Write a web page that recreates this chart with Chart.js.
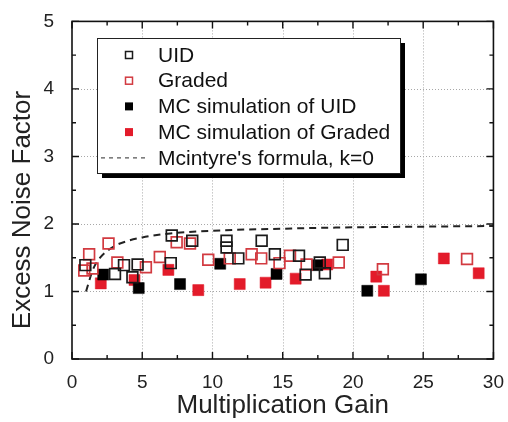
<!DOCTYPE html>
<html>
<head>
<meta charset="utf-8">
<title>Excess Noise Factor vs Multiplication Gain</title>
<script src="https://cdn.jsdelivr.net/npm/chart.js@4.4.1/dist/chart.umd.min.js"></script>
<style>
  html, body { margin: 0; padding: 0; background: #fff; }
  #wrap { width: 508px; height: 422px; }
</style>
</head>
<body>
<div id="wrap"><canvas id="noiseChart" width="508" height="422"></canvas></div>
<script>
// ── Measured / simulated data ───────────────────────────────
const uidGain = [0.95, 3.06, 3.7, 4.3, 4.67, 7.03, 7.1, 8.56, 11.0, 11.0, 11.84, 13.5, 14.44, 16.16, 16.63, 17.64, 18.0, 19.27];
const uidF    = [1.39, 1.26, 1.39, 1.21, 1.40, 1.42, 1.83, 1.75, 1.75, 1.65, 1.49, 1.75, 1.55, 1.53, 1.25, 1.43, 1.27, 1.69];

const gradedGain = [0.87, 1.22, 1.46, 2.6, 3.23, 5.26, 6.25, 7.45, 8.4, 9.7, 11.23, 12.79, 13.47, 14.77, 15.52, 16.7, 18.99, 22.13, 28.12];
const gradedF    = [1.31, 1.55, 1.34, 1.71, 1.43, 1.36, 1.51, 1.73, 1.71, 1.47, 1.49, 1.55, 1.49, 1.42, 1.53, 1.40, 1.43, 1.33, 1.48];

const mcUidGain = [2.22, 4.75, 7.69, 10.55, 14.56, 17.46, 21.02, 24.84];
const mcUidF    = [1.25, 1.05, 1.11, 1.41, 1.26, 1.39, 1.01, 1.18];

const mcGradedGain = [2.05, 4.45, 6.86, 8.99, 11.94, 13.78, 15.92, 18.17, 21.66, 22.2, 26.47, 28.95];
const mcGradedF    = [1.12, 1.17, 1.32, 1.02, 1.11, 1.13, 1.19, 1.40, 1.22, 1.01, 1.49, 1.27];

// McIntyre curve, k = 0
const mcintyreGain = [1, 1.5, 2, 3, 4, 5, 7, 10, 15, 20, 25, 30];
const mcintyreF    = [1.0, 1.33, 1.5, 1.67, 1.75, 1.8, 1.86, 1.9, 1.93, 1.95, 1.96, 1.97];

const xTicks = [0, 5, 10, 15, 20, 25, 30];
const yTicks = [0, 1, 2, 3, 4, 5];

const RED = '#e31b2a';
const RED_EDGE = '#d23a40';
const FONT = "'Liberation Sans', Arial, sans-serif";

function toPoints(xs, ys) {
  return xs.map((x, i) => ({ x: x, y: ys[i] }));
}

// ── Frame, inward ticks and dotted grid ─────────────────────
const framePlugin = {
  id: 'frame',
  beforeDatasetsDraw(chart) {
    const { ctx, chartArea: a, scales: { x, y } } = chart;
    ctx.save();
    ctx.strokeStyle = '#a8a8a8';
    ctx.lineWidth = 1;
    ctx.setLineDash([1, 2]);
    xTicks.slice(1, -1).forEach(v => {
      const px = Math.round(x.getPixelForValue(v)) + 0.5;
      ctx.beginPath(); ctx.moveTo(px, a.top); ctx.lineTo(px, a.bottom); ctx.stroke();
    });
    yTicks.slice(1, -1).forEach(v => {
      const py = Math.round(y.getPixelForValue(v)) + 0.5;
      ctx.beginPath(); ctx.moveTo(a.left, py); ctx.lineTo(a.right, py); ctx.stroke();
    });
    ctx.restore();
  },
  afterDraw(chart) {
    const { ctx, chartArea: a, scales: { x, y } } = chart;
    ctx.save();
    ctx.strokeStyle = '#111';
    ctx.lineWidth = 1.6;
    ctx.setLineDash([]);
    ctx.strokeRect(a.left, a.top, a.right - a.left, a.bottom - a.top);
    ctx.lineWidth = 1.4;
    ctx.beginPath();
    for (let v = 0; v <= 30; v += 2.5) {
      const px = x.getPixelForValue(v);
      const len = v % 5 === 0 ? 7 : 4;
      ctx.moveTo(px, a.bottom); ctx.lineTo(px, a.bottom - len);
      ctx.moveTo(px, a.top); ctx.lineTo(px, a.top + len);
    }
    for (let v = 0; v <= 5; v += 0.5) {
      const py = y.getPixelForValue(v);
      const len = v % 1 === 0 ? 7 : 4;
      ctx.moveTo(a.left, py); ctx.lineTo(a.left + len, py);
      ctx.moveTo(a.right, py); ctx.lineTo(a.right - len, py);
    }
    ctx.stroke();

    // y-axis title, sitting a little below the plot's middle
    ctx.translate(23, 210);
    ctx.rotate(-Math.PI / 2);
    ctx.font = '26px ' + FONT;
    ctx.fillStyle = '#222';
    ctx.textAlign = 'center';
    ctx.textBaseline = 'middle';
    ctx.fillText('Excess Noise Factor', 0, 0);
    ctx.restore();
  }
};

// ── Boxed legend with drop shadow ───────────────────────────
const legendBoxPlugin = {
  id: 'legendBox',
  afterDraw(chart) {
    const ctx = chart.ctx;
    const box = { x: 97, y: 38, w: 303, h: 135 };
    ctx.save();
    ctx.fillStyle = '#000';
    ctx.fillRect(box.x + 5, box.y + 5, box.w, box.h);
    ctx.fillStyle = '#fff';
    ctx.fillRect(box.x, box.y, box.w, box.h);
    ctx.strokeStyle = '#222';
    ctx.lineWidth = 1;
    ctx.strokeRect(box.x + 0.5, box.y + 0.5, box.w, box.h);

    ctx.font = '21px ' + FONT;
    ctx.textBaseline = 'middle';
    ctx.textAlign = 'left';
    chart.data.datasets.forEach((ds, i) => {
      const cy = 55 + i * 25.7;
      const cx = 129;
      if (ds.showLine) {
        ctx.strokeStyle = '#555';
        ctx.lineWidth = 1.3;
        ctx.setLineDash([4, 4]);
        ctx.beginPath(); ctx.moveTo(101, cy); ctx.lineTo(148, cy); ctx.stroke();
        ctx.setLineDash([]);
      } else if (ds.filled) {
        ctx.fillStyle = ds.backgroundColor;
        ctx.fillRect(cx - 4, cy - 4, 8, 8);
      } else {
        ctx.strokeStyle = ds.borderColor;
        ctx.lineWidth = 1.5;
        ctx.strokeRect(cx - 3.5, cy - 3.5, 7, 7);
      }
      ctx.fillStyle = '#111';
      ctx.fillText(ds.label, 158, cy + 1);
    });
    ctx.restore();
  }
};

const squareOpen = (color) => ({
  pointStyle: 'rect', pointRadius: 7.6, pointHoverRadius: 7.6,
  borderColor: color, backgroundColor: 'rgba(255,255,255,0)', borderWidth: 1.7, showLine: false
});
const squareFilled = (color) => ({
  pointStyle: 'rect', pointRadius: 7.8, pointHoverRadius: 7.8,
  borderColor: color, backgroundColor: color, borderWidth: 0.5, showLine: false, filled: true
});

new Chart(document.getElementById('noiseChart'), {
  type: 'scatter',
  data: {
    datasets: [
      { label: 'UID', data: toPoints(uidGain, uidF), ...squareOpen('#1a1a1a') },
      { label: 'Graded', data: toPoints(gradedGain, gradedF), ...squareOpen(RED_EDGE) },
      { label: 'MC simulation of UID', data: toPoints(mcUidGain, mcUidF), ...squareFilled('#000') },
      { label: 'MC simulation of Graded', data: toPoints(mcGradedGain, mcGradedF), ...squareFilled(RED) },
      {
        label: "Mcintyre's formula, k=0", data: toPoints(mcintyreGain, mcintyreF),
        showLine: true, borderColor: '#222', borderWidth: 2, borderDash: [7, 5],
        pointRadius: 0, cubicInterpolationMode: 'monotone', order: 10
      }
    ]
  },
  options: {
    responsive: false,
    animation: false,
    layout: { padding: { left: 0, top: 14, right: 12, bottom: 0 } },
    plugins: { legend: { display: false }, tooltip: { enabled: false } },
    scales: {
      x: {
        type: 'linear', min: 0, max: 30,
        afterFit(scale) { scale.height = 63; },
        grid: { display: false },
        border: { display: false },
        ticks: { stepSize: 5, padding: 4, color: '#222', font: { family: FONT, size: 19 } },
        title: { display: true, text: 'Multiplication Gain', color: '#222', padding: { top: 0, bottom: 1 },
                 font: { family: FONT, size: 26 } }
      },
      y: {
        type: 'linear', min: 0, max: 5,
        afterFit(scale) { scale.width = 72; },
        grid: { display: false },
        border: { display: false },
        ticks: { stepSize: 1, padding: 10, color: '#222', font: { family: FONT, size: 19 } }
      }
    }
  },
  plugins: [framePlugin, legendBoxPlugin]
});
</script>
</body>
</html>
